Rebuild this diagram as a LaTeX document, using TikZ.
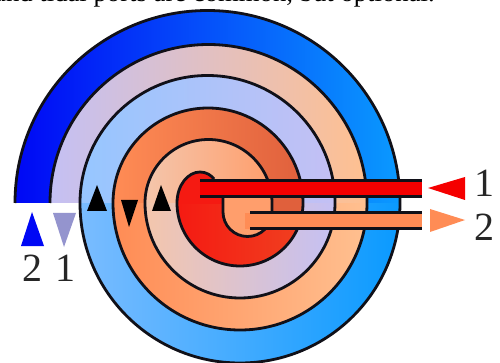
\documentclass[tikz,border=0pt]{standalone}
\usepackage{fontspec}
\setmainfont{Liberation Serif}
\definecolor{dblue}{HTML}{0008F5}
\definecolor{mblue}{HTML}{0A9AFF}
\definecolor{lblue}{HTML}{7ABCFF}
\definecolor{lblueB}{HTML}{96C6FF}
\definecolor{lilac}{HTML}{C4C0F4}
\definecolor{peachA}{HTML}{FFC090}
\definecolor{peachB}{HTML}{F4C6AC}
\definecolor{coreC}{HTML}{FF9E6C}
\definecolor{orangeA}{HTML}{FF8C55}
\definecolor{orangeB}{HTML}{E0603C}
\definecolor{redA}{HTML}{F51A12}
\definecolor{redB}{HTML}{F04020}
\definecolor{pipeA}{HTML}{F50000}
\definecolor{lilacD}{HTML}{9494CE}
\definecolor{wallc}{HTML}{101018}
\newcommand{\upband}[3]{\shade[left color=#2,right color=#3] (208-#1,203) arc[start angle=180,end angle=0,radius=#1 pt] -- cycle;}
\newcommand{\lowband}[3]{\shade[left color=#2,right color=#3] (240-#1,203) arc[start angle=180,end angle=360,radius=#1 pt] -- cycle;}
\tikzset{
  wall/.style={draw=wallc,line width=2.8pt,line join=round},
  pipewall/.style={draw=wallc,line width=3pt},
  digit/.style={font=\fontsize{40}{40}\selectfont,text=black!85,inner sep=0pt},
  headline/.style={font=\fontsize{26.7}{26.7}\selectfont,inner sep=0pt,anchor=base west}
}
\begin{document}
\begin{tikzpicture}[x=1pt,y=-1pt]
\useasboundingbox (0,0) rectangle (500,363);
\fill[white] (0,0) rectangle (500,363);
\begin{scope}
\clip (0,0) rectangle (500,363);
\node[headline] (caption) at (-6,1.5) {and tidal ports are common, but optional.};
\end{scope}
% lower half bands
\lowband{160}{lblue}{mblue}
\lowband{127}{orangeA}{peachA}
\lowband{95}{peachB}{lilac}
\lowband{63}{redA}{redB}
% upper half bands
\upband{192.5}{dblue}{mblue}
\upband{158.5}{lilac}{peachA}
\upband{127.5}{lblueB}{lilac}
\upband{95}{orangeA}{orangeB}
\upband{63.5}{peachB}{coreC}
% gap between the pipes, hot channel
\fill[orangeB] (272,196) rectangle (303,214);
% red cap and core
\fill[redA] (177,204) .. controls (177,185) and (188,172) .. (200,172) .. controls (206,172) and (211,175) .. (214,179) -- (214,197) -- (223,197) -- (223,204) -- cycle;
\fill[coreC] (223,197) -- (223,212) arc[start angle=180,end angle=360,radius=24.5pt] -- (272,197) -- cycle;
% channel walls
\draw[wall] (15,203) arc[start angle=180,end angle=0,radius=192.5pt]
  arc[start angle=0,end angle=-180,radius=160pt]
  arc[start angle=180,end angle=0,radius=127.5pt]
  arc[start angle=0,end angle=-180,radius=95pt]
  arc[start angle=180,end angle=0,radius=63.5pt]
  -- (272,212) arc[start angle=360,end angle=180,radius=24.5pt] -- (223,197);
\draw[wall] (50,203) arc[start angle=180,end angle=0,radius=158.5pt]
  arc[start angle=0,end angle=-180,radius=127pt]
  arc[start angle=180,end angle=0,radius=95pt]
  arc[start angle=0,end angle=-180,radius=63pt]
  .. controls (177,185) and (188,172) .. (200,172) .. controls (206,172) and (211,175) .. (214,179);
% pipes
\fill[pipeA] (200,181) rectangle (422,197);
\fill[orangeA] (245,213) rectangle (422,229);
\draw[pipewall] (200,181) -- (422,181);
\draw[pipewall] (200,197) -- (422,197);
\draw[pipewall] (250,213) -- (422,213);
\draw[pipewall] (250,229) -- (422,229);
% port arrows
\fill[pipeA] (428,188) -- (465,177) -- (465,200) -- cycle;
\fill[orangeA] (430,209) -- (465,220) -- (430,232) -- cycle;
\fill[dblue] (32,212) -- (44,246) -- (21,246) -- cycle;
\fill[lilacD] (53,213) -- (76,213) -- (64,247) -- cycle;
% flow arrows
\fill[black] (97,185) -- (107,211) -- (87,211) -- cycle;
\fill[black] (121,200) -- (138,200) -- (129,227) -- cycle;
\fill[black] (161,185) -- (171,211) -- (152,211) -- cycle;
% labels
\node[digit] (lblA) at (484,183) {1};
\node[digit] (lblB) at (484,227) {2};
\node[digit] (lblC) at (32,268) {2};
\node[digit] (lblD) at (65,268) {1};
\end{tikzpicture}
\end{document}
